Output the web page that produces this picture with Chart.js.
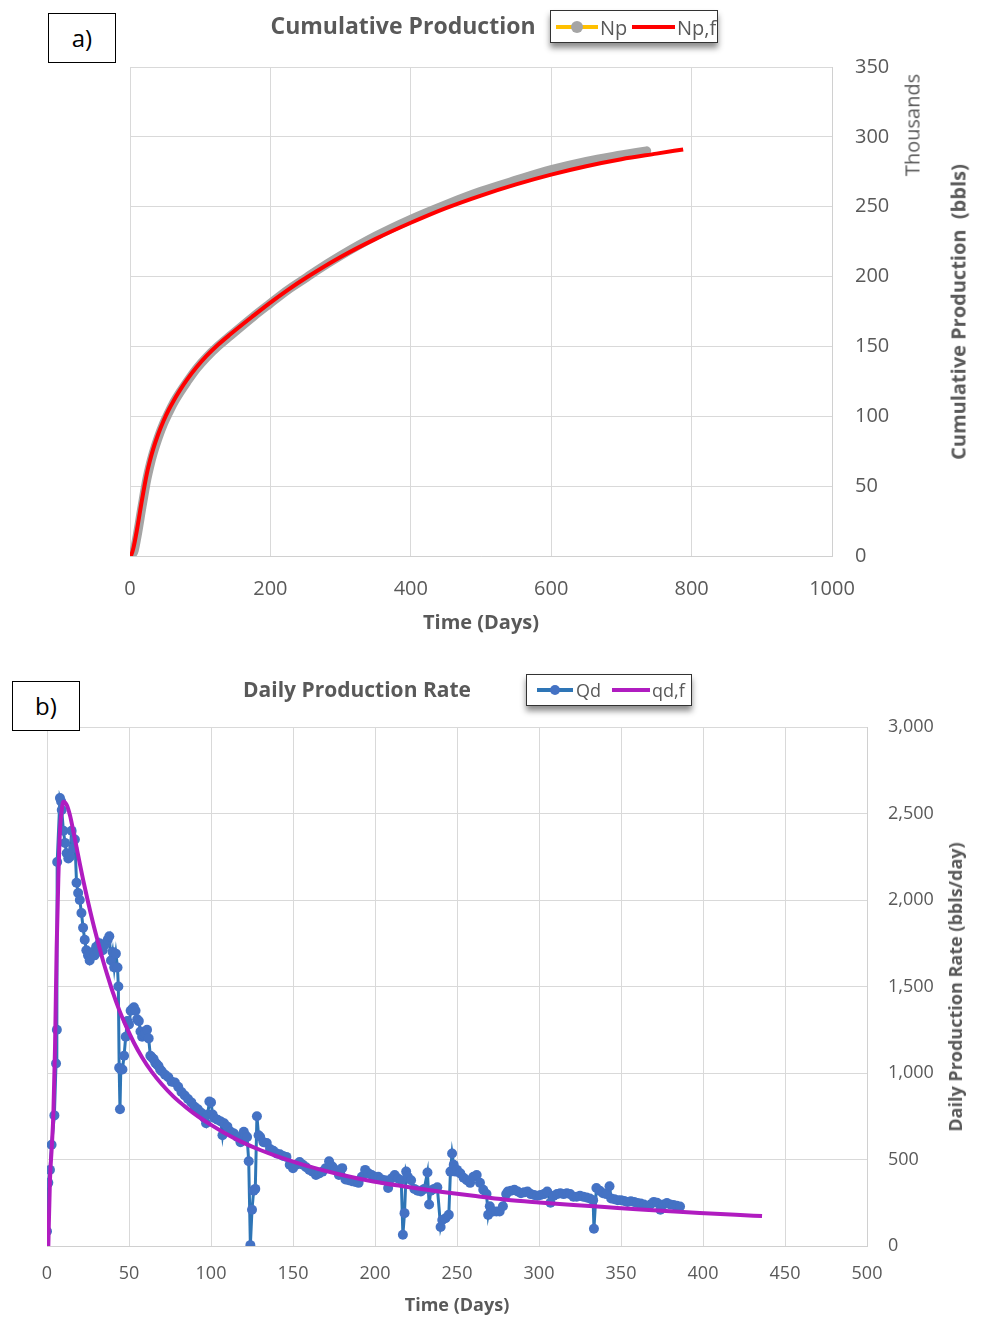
<!DOCTYPE html>
<html>
<head>
<meta charset="utf-8">
<script src="https://cdn.jsdelivr.net/npm/chart.js@4.4.0/dist/chart.umd.min.js"></script>
<style>
  body { margin: 0; background: #fff; font-family: 'Open Sans', sans-serif; color: #595959; }
  #page { position: relative; width: 983px; height: 1319px; overflow: hidden; }
  canvas { position: absolute; left: 0; }
  .tag { position: absolute; width: 66px; height: 48px; border: 1px solid #000; background: #fff;
         color: #000; font-size: 24px; line-height: 48px; text-align: center; }
  .ttl { position: absolute; transform: translate(-50%, -50%); font-weight: bold; white-space: nowrap; }
  .rot { position: absolute; transform: translate(-50%, -50%) rotate(-90deg); white-space: pre; }
  .legend { position: absolute; border: 1.5px solid #333; background: #fff; box-shadow: 0 5px 6px rgba(0,0,0,.45); }
  .legend .ln { position: absolute; height: 4px; }
  .legend .dot { position: absolute; border-radius: 50%; transform: translate(-50%, -50%); }
  .legend .tx { position: absolute; transform: translateY(-50%); white-space: nowrap; }
</style>
</head>
<body>
<div id="page">
  <canvas id="cum" width="983" height="650" style="top:0"></canvas>
  <canvas id="rate" width="983" height="669" style="top:650px"></canvas>

  <div class="tag" style="left:48px;top:13px">a)</div>
  <div class="ttl" style="left:403px;top:25px;font-size:23px">Cumulative Production</div>
  <div class="legend" style="left:550px;top:10px;width:166px;height:31px">
    <div class="ln" style="left:5px;top:14px;width:42px;background:#FFC000"></div>
    <div class="dot" style="left:26px;top:16px;width:12px;height:12px;background:#A5A5A5"></div>
    <div class="tx" style="left:49px;top:16px;font-size:20px">Np</div>
    <div class="ln" style="left:81px;top:14px;width:43px;background:#FF0000"></div>
    <div class="tx" style="left:126px;top:16px;font-size:20px">Np,f</div>
  </div>
  <div class="rot" style="left:912px;top:125px;font-size:20px">Thousands</div>
  <div class="rot" style="left:958px;top:312px;font-size:20px;font-weight:bold">Cumulative Production  (bbls)</div>

  <div class="tag" style="left:12px;top:681px">b)</div>
  <div class="ttl" style="left:357px;top:689px;font-size:21px">Daily Production Rate</div>
  <div class="legend" style="left:526px;top:674px;width:164px;height:30px">
    <div class="ln" style="left:10px;top:13px;width:36px;background:#2E75B6"></div>
    <div class="dot" style="left:28px;top:15px;width:10px;height:10px;background:#4472C4"></div>
    <div class="tx" style="left:49px;top:15px;font-size:18px">Qd</div>
    <div class="ln" style="left:85px;top:13px;width:38px;background:#B01CC0"></div>
    <div class="tx" style="left:125px;top:15px;font-size:18px">qd,f</div>
  </div>
  <div class="rot" style="left:955px;top:987px;font-size:18px;font-weight:bold">Daily Production Rate (bbls/day)</div>
</div>

<script>
// a) cumulative production, thousands of bbls
const npDays  = [0, 3, 6, 10, 17, 24, 28, 33, 40, 48, 55, 62, 71, 81, 95, 109, 125, 142, 176, 199, 225, 252, 265, 300, 350, 400, 450, 500, 550, 600, 650, 700, 736];
const npKbbl  = [0, 1, 4, 14, 35, 55, 64, 73.5, 84.5, 95, 102.5, 109.5, 117, 124.5, 134.2, 142.2, 150, 157.3, 171.5, 180.5, 190.5, 199.5, 204, 215, 229, 241, 251.5, 261, 269, 276.5, 282.5, 287, 290];
const npfDays = [0, 2, 5, 10, 17, 24, 28, 33, 40, 48, 55, 62, 71, 81, 95, 109, 125, 142, 176, 199, 225, 252, 300, 350, 400, 450, 500, 550, 600, 650, 700, 750, 788];
const npfKbbl = [0, 1, 6, 19, 40, 59, 67.5, 76.5, 87, 97, 104.5, 111, 118.5, 126, 135.2, 143.2, 151, 158.3, 172, 181, 190.5, 199.5, 214, 227, 238.5, 249, 258, 266, 273, 279, 284, 288, 291];

// b) daily production rate, bbls/day
const qdDays = [0, 0.8, 1.8, 2.8, 4.5, 5.5, 6, 6.2, 7.9, 8.6, 9, 10, 11, 12, 13, 14, 15, 16, 17, 18, 19, 20,
  21, 22, 23, 24, 25, 26, 27, 28, 29, 30, 31, 32, 33, 34, 35, 36, 37, 38, 39, 40, 41, 42, 43, 43.5, 44, 44.5,
  45, 46, 47, 48, 49, 50, 51, 52, 53, 54, 55, 56, 57, 58, 59, 60, 61, 62, 63, 64, 65, 66, 67, 68, 69, 70,
  72, 74, 76, 78, 80, 82, 84, 86, 88, 90, 92, 94, 96, 97, 98, 99, 100, 101, 102, 104, 106, 107, 108, 110,
  112, 114, 116, 118, 119, 120, 121, 122, 123, 124, 125, 126, 127, 128, 129, 130, 132, 134, 136, 138, 140,
  142, 144, 146, 148, 150, 152, 154, 156, 158, 160, 162, 164, 166, 168, 170, 172, 174, 176, 178, 180, 182,
  184, 186, 188, 190, 192, 194, 196, 198, 200, 202, 204, 206, 208, 210, 212, 214, 216, 217, 218, 219, 220,
  222, 224, 226, 228, 230, 232, 233, 234, 236, 238, 240, 241, 243, 245, 246, 247, 248, 249, 250, 252, 254,
  256, 258, 260, 262, 264, 266, 268, 269, 270, 272, 274, 276, 278, 280, 281, 283, 285, 287, 289, 291, 293,
  295, 297, 299, 301, 303, 305, 307, 309, 311, 313, 315, 317, 319, 321, 323, 325, 327, 329, 331, 333, 333.5,
  335, 337, 339, 341, 343, 344, 346, 348, 350, 352, 354, 356, 358, 360, 362, 364, 366, 368, 370, 372, 374,
  376, 378, 380, 382, 384, 386];
const qdRate = [85, 365, 440, 585, 755, 1055, 1250, 2220, 2590, 2570, 2520, 2400, 2330, 2270, 2240, 2250, 2400, 2300, 2350, 2100, 2040, 2000,
  1925, 1840, 1770, 1710, 1680, 1650, 1690, 1700, 1680, 1730, 1700, 1750, 1720, 1710, 1740, 1750, 1770, 1790, 1650, 1700, 1610, 1690, 1610, 1500, 1030, 790,
  1020, 1020, 1100, 1210, 1300, 1280, 1360, 1370, 1380, 1360, 1310, 1300, 1240, 1210, 1220, 1230, 1250, 1200, 1100, 1090, 1080, 1060, 1050, 1040, 1020, 1010,
  990, 975, 950, 945, 920, 890, 870, 850, 830, 805, 790, 770, 740, 710, 760, 835, 830, 760, 740, 730, 720, 640, 710, 690,
  660, 650, 630, 600, 620, 660, 640, 630, 490, 5, 210, 320, 330, 750, 640, 630, 600, 595, 560, 550, 535,
  530, 520, 515, 470, 450, 470, 485, 470, 455, 440, 430, 410, 420, 430, 450, 490, 460, 440, 410, 450, 385,
  380, 375, 370, 365, 400, 440, 420, 410, 400, 400, 385, 380, 335, 390, 410, 390, 380, 65, 190, 430, 400,
  380, 330, 320, 315, 330, 425, 240, 320, 330, 340, 110, 150, 160, 180, 430, 535, 470, 430, 440, 420, 395,
  380, 365, 400, 410, 365, 325, 300, 180, 230, 200, 200, 200, 230, 300, 315, 320, 325, 315, 305, 310, 315,
  300, 295, 290, 295, 300, 315, 250, 290, 300, 305, 300, 305, 300, 285, 285, 290, 285, 280, 275, 265, 100,
  335, 320, 305, 300, 345, 275, 270, 265, 265, 260, 255, 258, 255, 248, 245, 240, 230, 240, 255, 250, 210,
  240, 248, 240, 237, 232, 228];
const qdfDays = [0.8, 1.8, 2.9, 3.9, 4.9, 5.9, 6.9, 7.9, 9, 10, 12, 14, 16, 18, 20, 22, 25, 28, 31, 34, 37, 40, 44, 48,
  53, 58, 64, 70, 77, 85, 92, 100, 108, 118, 130, 140, 158, 178, 199, 219, 240, 260, 280, 300, 321, 340, 362, 380, 398, 420, 436];
const qdfRate = [0, 380, 570, 770, 1150, 1730, 2120, 2400, 2520, 2568, 2550, 2490, 2400, 2305, 2210, 2118, 1990, 1870, 1760, 1655, 1560, 1470, 1365, 1275,
  1175, 1090, 1005, 935, 865, 800, 750, 700, 655, 605, 555, 520, 465, 415, 373, 343, 314, 290, 268, 252, 237, 225, 211, 200.5, 190.5, 180, 173];

// tick values
const cumDayTicks = [0, 200, 400, 600, 800, 1000];
const cumTicks = [0, 50, 100, 150, 200, 250, 300, 350];
const rateDayTicks = [0, 50, 100, 150, 200, 250, 300, 350, 400, 450, 500];
const rateTicks = [0, 500, 1000, 1500, 2000, 2500, 3000];

const pts = (xs, ys) => xs.map((x, i) => ({ x, y: ys[i] }));
const setTicks = (vals) => (s) => { s.ticks = vals.map(v => ({ value: v })); };
const grey = '#595959';
const gridLine = { color: '#D9D9D9', drawTicks: false };

new Chart(document.getElementById('cum'), {
  type: 'scatter',
  data: {
    datasets: [
      { label: 'Np,f', data: pts(npfDays, npfKbbl), showLine: true, borderColor: '#FF0000', borderWidth: 4,
        pointRadius: 0, cubicInterpolationMode: 'monotone', order: 0 },
      { label: 'Np', data: pts(npDays, npKbbl), showLine: true, borderColor: '#A5A5A5', borderWidth: 9,
        borderCapStyle: 'round', borderJoinStyle: 'round', pointRadius: 0, cubicInterpolationMode: 'monotone', order: 1 },
    ],
  },
  options: {
    responsive: false,
    animation: false,
    layout: { padding: { left: 130, top: 67, right: 0, bottom: 0 } },
    plugins: { legend: { display: false }, tooltip: { enabled: false } },
    scales: {
      x: {
        type: 'linear', min: 0, max: 1000,
        afterBuildTicks: setTicks(cumDayTicks),
        afterFit: (s) => { s.height = 94; },
        grid: gridLine,
        border: { color: '#D0D0D0' },
        ticks: { color: grey, font: { family: 'Open Sans', size: 20 }, padding: 21, autoSkip: false, maxRotation: 0,
                 callback: (v) => String(v) },
        title: { display: true, text: 'Time (Days)', color: grey, font: { family: 'Open Sans', size: 20, weight: 'bold' },
                 padding: { top: 0, bottom: 15 } },
      },
      y: {
        type: 'linear', position: 'right', min: 0, max: 350,
        afterBuildTicks: setTicks(cumTicks),
        afterFit: (s) => { s.width = 151; },
        grid: gridLine,
        border: { color: '#D0D0D0' },
        ticks: { color: grey, font: { family: 'Open Sans', size: 20 }, padding: 23 },
      },
    },
  },
});

new Chart(document.getElementById('rate'), {
  type: 'scatter',
  data: {
    datasets: [
      { label: 'qd,f', data: pts(qdfDays, qdfRate), showLine: true, borderColor: '#B01CC0', borderWidth: 4,
        pointRadius: 0, cubicInterpolationMode: 'monotone', order: 0 },
      { label: 'Qd', data: pts(qdDays, qdRate), showLine: true, borderColor: '#2E75B6', borderWidth: 3,
        pointRadius: 5, pointBorderWidth: 0, pointBackgroundColor: '#4472C4', order: 1 },
    ],
  },
  options: {
    responsive: false,
    animation: false,
    layout: { padding: { left: 47, top: 77, right: 0, bottom: 0 } },
    plugins: { legend: { display: false }, tooltip: { enabled: false } },
    scales: {
      x: {
        type: 'linear', min: 0, max: 500,
        afterBuildTicks: setTicks(rateDayTicks),
        afterFit: (s) => { s.height = 73; },
        grid: gridLine,
        border: { color: '#D0D0D0' },
        ticks: { color: grey, font: { family: 'Open Sans', size: 18 }, padding: 17, autoSkip: false, maxRotation: 0 },
        title: { display: true, text: 'Time (Days)', color: grey, font: { family: 'Open Sans', size: 18, weight: 'bold' },
                 padding: { top: 0, bottom: 2 } },
      },
      y: {
        type: 'linear', position: 'right', min: 0, max: 3000,
        afterBuildTicks: setTicks(rateTicks),
        afterFit: (s) => { s.width = 116; },
        grid: gridLine,
        border: { color: '#D0D0D0' },
        ticks: { color: grey, font: { family: 'Open Sans', size: 18 }, padding: 21,
                 callback: (v) => v.toLocaleString('en-US') },
      },
    },
  },
});
</script>
</body>
</html>
